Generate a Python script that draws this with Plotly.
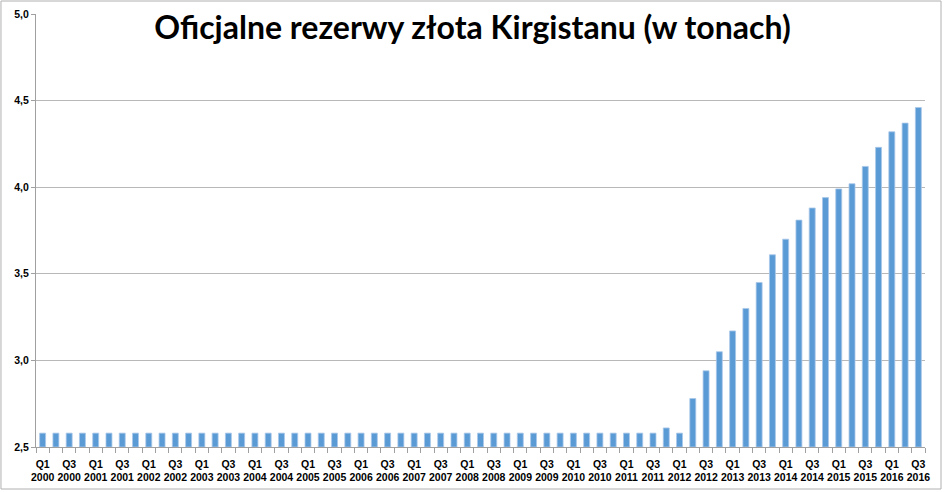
import plotly.graph_objects as go

years = list(range(2000, 2017))
categories = [f"Q{q} {y}" for y in years for q in (1, 2, 3, 4)][:67]

base_values = [2.58] * 47          # Q1 2000 .. Q3 2011
late_values = [2.61, 2.58, 2.78, 2.94, 3.05, 3.17, 3.30, 3.45, 3.61, 3.70,
               3.81, 3.88, 3.94, 3.99, 4.02, 4.12, 4.23, 4.32, 4.37, 4.46]
values = base_values + late_values
axis_min = 2.5
y_ticks = [2.5, 3.0, 3.5, 4.0, 4.5, 5.0]

tick_text = ["<b>" + c.replace(" ", "<br>") + "</b>" if i % 2 == 0 else ""
             for i, c in enumerate(categories)]

fig = go.Figure()
fig.add_trace(go.Bar(
    x=categories, y=[v - axis_min for v in values], base=axis_min,
    marker=dict(color="#5b9bd5", line=dict(color="#a9c8ea", width=0.8)),
))

fig.update_layout(
    width=945, height=492,
    margin=dict(l=36, r=20, t=14, b=45, autoexpand=False),
    paper_bgcolor="white", plot_bgcolor="white",
    bargap=0.55,
    showlegend=False,
    title=dict(text="<b>Oficjalne rezerwy złota Kirgistanu (w tonach)</b>",
               x=0.5, xanchor="center", yref="container", y=0.943, yanchor="middle",
               font=dict(family="Lato", size=32, color="black")),
    font=dict(family="Lato", color="black"),
)
fig.update_xaxes(
    type="category", automargin=False,
    tickvals=categories, ticktext=tick_text,
    tickson="boundaries", ticks="outside", ticklen=5, tickcolor="#a0a0a0",
    tickangle=0, ticklabelstandoff=7,
    tickfont=dict(family="Liberation Sans", size=10.5, color="black"),
    showline=True, linecolor="#a0a0a0", linewidth=1,
    showgrid=False,
)
fig.update_yaxes(
    automargin=False,
    range=[2.5, 5.0], tickvals=y_ticks,
    ticktext=["<b>" + f"{t:.1f}".replace(".", ",") + "</b>" for t in y_ticks],
    ticks="outside", ticklen=4, tickcolor="#a0a0a0",
    tickfont=dict(family="Liberation Sans", size=10.5, color="black"),
    showline=True, linecolor="#a0a0a0", linewidth=1,
    showgrid=True, gridcolor="#b8b8b8", gridwidth=1,
    zeroline=False,
)
# chart border (Excel chart area frame)
fig.add_shape(type="rect", xref="paper", yref="paper",
              x0=-0.0394, x1=1.018, y0=-0.097, y1=1.030,
              line=dict(color="#b0b0b0", width=1), layer="below")

fig.write_html("out.html", config={"displayModeBar": False},
               post_script="document.body.style.margin='0';")
